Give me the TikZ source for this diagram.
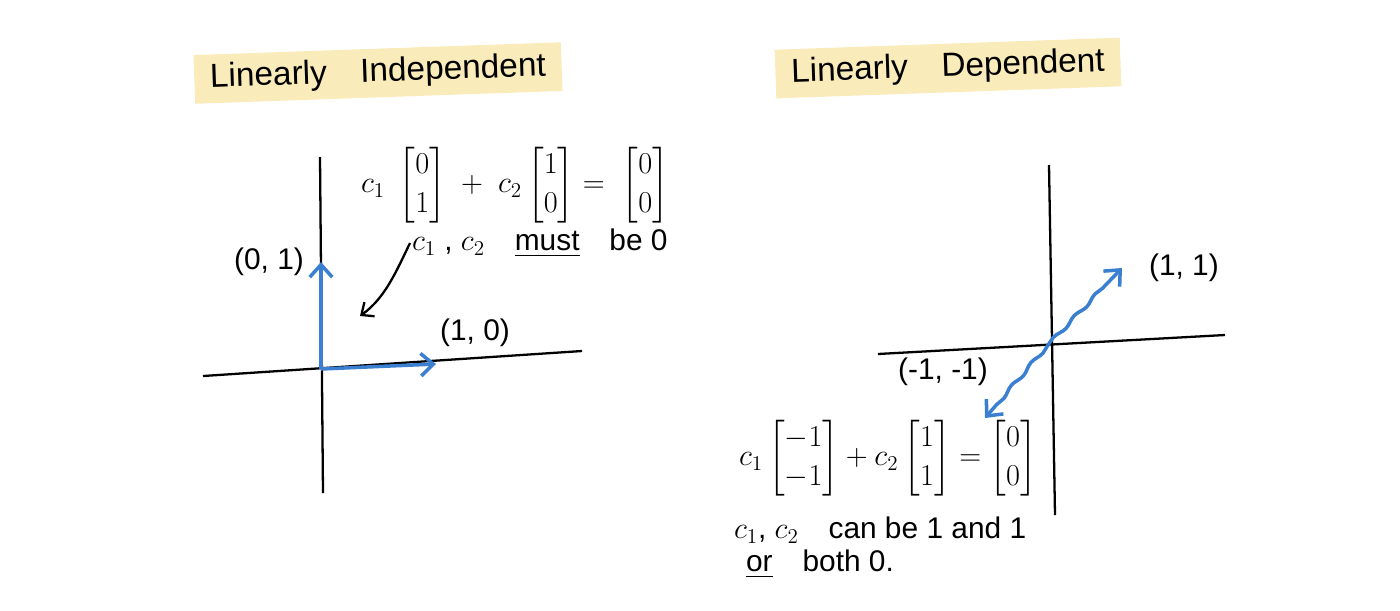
\documentclass[tikz,border=0pt]{standalone}
\usepackage{amsmath, amssymb}
\usepackage{fontspec}
\setmainfont{Liberation Sans}
\usetikzlibrary{arrows, arrows.meta, calc, positioning, decorations.pathmorphing}
\definecolor{hilite}{HTML}{FAEBBB}
\definecolor{vecblue}{HTML}{3A7FD0}
\tikzstyle{title} = [fill=hilite, inner xsep=0.9em, inner ysep=0.5em, font=\fontsize{19}{23}\selectfont]
\tikzstyle{axis} = [draw, line width=1.3pt]
\tikzstyle{vec} = [draw=vecblue, line width=2pt, -{Straight Barb[length=2.5mm, width=4.5mm]}]
\tikzstyle{wobble} = [decorate, decoration={snake, amplitude=0.3mm, segment length=6mm, post length=3mm}]
\tikzstyle{lbl} = [font=\fontsize{17}{20}\selectfont, inner sep=1pt]
\tikzstyle{eqn} = [font=\fontsize{18}{22}\selectfont, inner sep=1pt]

\begin{document}
\begin{tikzpicture}[x=0.02cm, y=-0.02cm]
    \useasboundingbox (0,0) rectangle (1400,610);
    % titles
    \node[title, rotate=2](indep) at (378,73){Linearly\quad Independent};
    \node[title, rotate=2](dep) at (948,68){Linearly\quad Dependent};
    % left axes
    \coordinate (oL) at (321,369);
    \coordinate (topL) at (320,157);
    \coordinate (botL) at (323,493);
    \coordinate (leftL) at (203,376);
    \coordinate (rightL) at (582,351);
    \draw[axis] (topL) -- (botL);
    \draw[axis] (leftL) -- (rightL);
    \coordinate (e2) at (321,262);
    \coordinate (e1) at (436,364);
    \draw[vec] (oL) -- (e2);
    \draw[vec] (oL) -- (e1);
    \node[lbl, left=0.3cm of e2](e2lbl){(0, 1)};
    \node[lbl](e1lbl) at (475,333){(1, 0)};
    \node[eqn](eqL) at (515,185){$c_1\;\begin{bmatrix}0\\1\end{bmatrix}\;+\;c_2\begin{bmatrix}1\\0\end{bmatrix}=\;\begin{bmatrix}0\\0\end{bmatrix}$};
    \node[lbl, anchor=west](mustL) at (410,243){$c_1$\;,\;$c_2$\quad\underline{must}\quad be 0};
    \coordinate (pointL) at (360,316);
    \draw[line width=1.3pt, -{Straight Barb[length=2mm, width=3.5mm]}] (mustL.west) .. controls (396,272) and (385,298) .. (pointL);
    % right axes
    \coordinate (oR) at (1048,345);
    \coordinate (topR) at (1049,165);
    \coordinate (botR) at (1055,515);
    \coordinate (leftR) at (878,354);
    \coordinate (rightR) at (1225,335);
    \draw[axis] (topR) -- (botR);
    \draw[axis] (leftR) -- (rightR);
    \coordinate (v1) at (1122,268);
    \coordinate (v2) at (985,418);
    \draw[vec, wobble] (oR) -- (v1);
    \draw[vec, wobble] (oR) -- (v2);
    \node[lbl, right=0.5cm of v1](v1lbl){(1, 1)};
    \node[lbl](v2lbl) at (943,372){(-1, -1)};
    \node[eqn](eqR) at (888,458){$c_1\begin{bmatrix}-1\\-1\end{bmatrix}+c_2\begin{bmatrix}1\\1\end{bmatrix}=\begin{bmatrix}0\\0\end{bmatrix}$};
    \node[lbl, anchor=west](canR) at (732,530){$c_1$, $c_2$\quad can be 1 and 1};
    \node[lbl, anchor=west](orR) at (744,564){\underline{or}\quad both 0.};
\end{tikzpicture}
\end{document}
